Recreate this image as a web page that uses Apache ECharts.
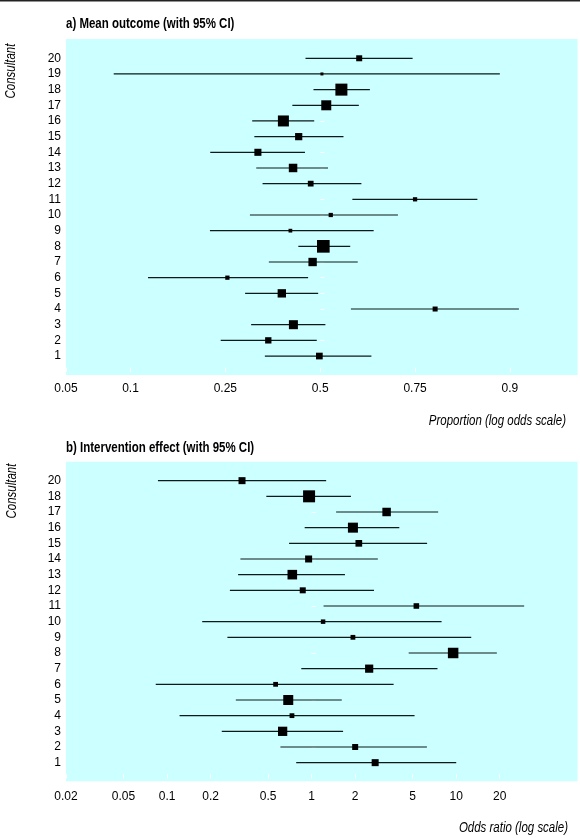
<!DOCTYPE html>
<html>
<head>
<meta charset="utf-8">
<script src="https://cdn.jsdelivr.net/npm/echarts@6/dist/echarts.min.js"></script>
<style>
html,body{margin:0;padding:0;background:#fff;}
#chart{width:580px;height:838px;}
</style>
</head>
<body>
<div id="chart"></div>
<script>
// ---- Panel a) Mean outcome (proportion, log-odds scale) ----
const consultantsA = [1,2,3,4,5,6,7,8,9,10,11,12,13,14,15,16,17,18,19,20];
const estA = [0.4975,0.354,0.423,0.791,0.3906,0.2544,0.478,0.509,0.4145,0.5305,0.75,0.4725,0.422,0.327,0.438,0.395,0.5175,0.561,0.505,0.611];
const loA  = [0.345,0.24,0.31,0.588,0.2953,0.1198,0.3555,0.437,0.218,0.307,0.592,0.339,0.3228,0.2186,0.318,0.3126,0.42,0.4805,0.0838,0.4575];
const hiA  = [0.644,0.49,0.515,0.909,0.494,0.465,0.607,0.586,0.65,0.711,0.8606,0.617,0.5225,0.456,0.567,0.4826,0.61,0.64,0.889,0.7446];
const weightA = [45,40,81,25,70,18,70,160,14,18,18,33,72,50,52,121,100,144,9,36];
const ticksA = [0.05,0.1,0.25,0.5,0.75,0.9];

// ---- Panel b) Intervention effect (odds ratio, log scale) ----
const consultantsB = [1,2,3,4,5,6,7,8,9,10,11,12,13,14,15,16,17,18,20];
const estB = [2.75,2.0,0.63,0.731,0.689,0.5635,2.5,9.52,1.93,1.2,5.3,0.868,0.735,0.953,2.12,1.93,3.3,0.96,0.33];
const loB  = [0.782,0.608,0.239,0.122,0.299,0.0835,0.848,4.69,0.2614,0.175,1.209,0.272,0.31,0.3215,0.698,0.895,1.477,0.486,0.0865];
const hiB  = [10.0,6.27,1.65,5.15,1.616,3.69,7.42,19.1,12.7,7.92,29.5,2.7,1.7,2.87,6.29,4.04,7.5,1.87,1.26];
const weightB = [49,36,86,23,100,23,67,110,23,20,31,36,92,49,45,100,72,144,49];
const ticksB = [0.02,0.05,0.1,0.2,0.5,1,2,5,10,20];

const logit = p => Math.log(p/(1-p));
const invlogit = x => 1/(1+Math.exp(-x));
const lg = v => Math.log10(v);

const FONT = "'Liberation Sans',Arial,sans-serif";
const SQ = 0.82; // horizontal condensing of headings

const posA = consultantsA.map((c,i)=>i+1);
const posB = consultantsB.map((c,i)=>i+1);

const ciA = consultantsA.map((c,i)=>[logit(loA[i]), logit(hiA[i]), posA[i]]);
const ptA = consultantsA.map((c,i)=>[logit(estA[i]), posA[i], Math.sqrt(weightA[i])]);
const ciB = consultantsB.map((c,i)=>[lg(loB[i]), lg(hiB[i]), posB[i]]);
const ptB = consultantsB.map((c,i)=>[lg(estB[i]), posB[i], Math.sqrt(weightB[i])]);

function ciRender(params, api){
  const y = api.value(2);
  const p1 = api.coord([api.value(0), y]);
  const p2 = api.coord([api.value(1), y]);
  return {type:'line', shape:{x1:p1[0], y1:p1[1], x2:p2[0], y2:p2[1]},
          style:{stroke:'#0d1a1a', lineWidth:1.2}};
}

const chart = echarts.init(document.getElementById('chart'), null, {renderer:'canvas'});

const yCommon = {
  type:'value',
  axisLine:{show:false},
  splitLine:{show:false},
  axisTick:{show:true, inside:true, length:4, lineStyle:{color:'#ffffff', width:1}},
  axisLabel:{show:true, margin:5, color:'#000', fontFamily:FONT, fontSize:12}
};
const xCommon = {
  type:'value',
  axisLine:{show:false},
  splitLine:{show:false},
  axisTick:{show:true, inside:true, length:4, lineStyle:{color:'#ffffff', width:1}},
  axisLabel:{show:true, color:'#000', fontFamily:FONT, fontSize:12, showMinLabel:true, showMaxLabel:true, hideOverlap:false}
};

function txt(x, y, text, font, align, rot){
  return {type:'text', x:x, y:y, rotation:rot||0, scaleX:SQ, scaleY:1,
    style:{text:text, font:font, fill:'#000', verticalAlign:'middle', textAlign:align}};
}

const option = {
  animation:false,
  backgroundColor:'#ffffff',
  grid:[
    {left:66, top:39, width:511.5, height:336, show:true, backgroundColor:'#ccffff', borderWidth:0, containLabel:false},
    {left:66, top:461.7, width:511.5, height:319.6, show:true, backgroundColor:'#ccffff', borderWidth:0, containLabel:false}
  ],
  xAxis:[
    Object.assign({}, xCommon, {
      gridIndex:0, min:logit(0.05), max:2.98,
      axisTick:Object.assign({}, xCommon.axisTick, {customValues:ticksA.map(logit)}),
      axisLabel:Object.assign({}, xCommon.axisLabel, {margin:8, customValues:ticksA.map(logit),
        formatter:v=>String(parseFloat(invlogit(v).toFixed(2)))})
    }),
    Object.assign({}, xCommon, {
      gridIndex:1, min:lg(0.02), max:lg(69),
      axisTick:Object.assign({}, xCommon.axisTick, {customValues:ticksB.map(lg)}),
      axisLabel:Object.assign({}, xCommon.axisLabel, {margin:9, customValues:ticksB.map(lg),
        formatter:v=>String(parseFloat(Math.pow(10,v).toPrecision(2)))})
    })
  ],
  yAxis:[
    Object.assign({}, yCommon, {
      gridIndex:0, min:-0.21, max:21.23,
      axisTick:Object.assign({}, yCommon.axisTick, {customValues:posA}),
      axisLabel:Object.assign({}, yCommon.axisLabel, {customValues:posA,
        formatter:v=>String(consultantsA[Math.round(v)-1])})
    }),
    Object.assign({}, yCommon, {
      gridIndex:1, min:-0.19, max:20.21,
      axisTick:Object.assign({}, yCommon.axisTick, {customValues:posB}),
      axisLabel:Object.assign({}, yCommon.axisLabel, {customValues:posB,
        formatter:v=>String(consultantsB[Math.round(v)-1])})
    })
  ],
  series:[
    {type:'custom', xAxisIndex:0, yAxisIndex:0, data:ciA, renderItem:ciRender, silent:true, z:2,
     encode:{x:[0,1], y:2}},
    {type:'scatter', xAxisIndex:0, yAxisIndex:0, data:ptA, symbol:'rect',
     symbolSize:v=>v[2], itemStyle:{color:'#000', opacity:1}, silent:true, z:3},
    {type:'custom', xAxisIndex:1, yAxisIndex:1, data:ciB, renderItem:ciRender, silent:true, z:2,
     encode:{x:[0,1], y:2}},
    {type:'scatter', xAxisIndex:1, yAxisIndex:1, data:ptB, symbol:'rect',
     symbolSize:v=>v[2], itemStyle:{color:'#000', opacity:1}, silent:true, z:3}
  ],
  graphic:[
    {type:'rect', left:0, top:0, shape:{width:580, height:1.6}, style:{fill:'#222'}},
    txt(66, 24, 'a) Mean outcome (with 95% CI)', 'bold 14px '+FONT, 'left'),
    txt(11.5, 71, 'Consultant', 'italic 14px '+FONT, 'center', Math.PI/2),
    txt(566, 421, 'Proportion (log odds scale)', 'italic 14px '+FONT, 'right'),
    txt(66, 448, 'b) Intervention effect (with 95% CI)', 'bold 14px '+FONT, 'left'),
    txt(12.5, 491, 'Consultant', 'italic 14px '+FONT, 'center', Math.PI/2),
    txt(568, 828, 'Odds ratio (log scale)', 'italic 14px '+FONT, 'right')
  ]
};
chart.setOption(option);
</script>
</body>
</html>
